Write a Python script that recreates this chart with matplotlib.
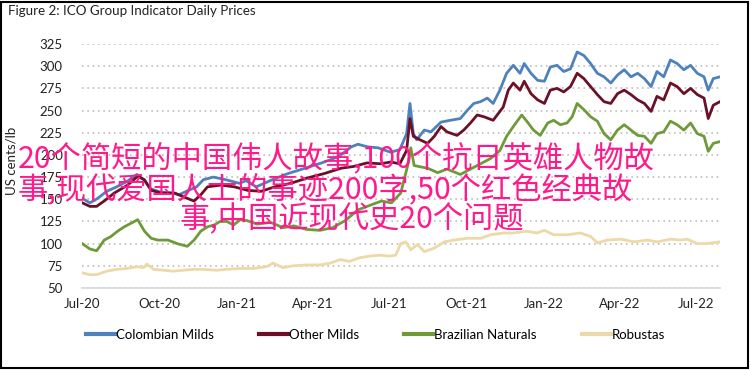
import matplotlib
matplotlib.use("Agg")
import matplotlib.pyplot as plt
from matplotlib.patches import Rectangle
import pandas as pd

# ---------------- data ----------------
colombian_dates = ["2020-07-01","2020-07-10","2020-07-16","2020-07-22","2020-07-30","2020-08-11","2020-08-23",
    "2020-09-04","2020-09-12","2020-09-20","2020-10-02","2020-10-17","2020-10-24","2020-11-02","2020-11-14",
    "2020-11-22","2020-12-04","2020-12-19","2021-01-04","2021-01-12","2021-01-24","2021-02-12","2021-03-03",
    "2021-03-23","2021-04-12","2021-05-02","2021-05-17","2021-05-25","2021-06-06","2021-06-18","2021-07-03",
    "2021-07-14","2021-07-22","2021-07-26","2021-07-30","2021-08-03","2021-08-12","2021-08-20","2021-09-01",
    "2021-09-12","2021-09-24","2021-10-02","2021-10-10","2021-10-18","2021-10-26","2021-11-02","2021-11-10",
    "2021-11-18","2021-11-26","2021-12-04","2021-12-09","2021-12-17","2021-12-25","2022-01-02","2022-01-09",
    "2022-01-17","2022-01-25","2022-02-02","2022-02-10","2022-02-18","2022-02-26","2022-03-06","2022-03-14",
    "2022-03-22","2022-03-30","2022-04-07","2022-04-15","2022-04-23","2022-05-01","2022-05-09","2022-05-16",
    "2022-05-24","2022-06-01","2022-06-09","2022-06-17","2022-06-25","2022-07-03","2022-07-11","2022-07-16",
    "2022-07-22","2022-07-30"]
colombian_vals = [151,146,149,153,159,164,170,178,172,162,158,157,155,159,164,
    172,175,172,168,171,164,172,179,
    185,191,198,209,212,209,208,203,
    206,224,258,224,217,228,226,237,
    239,241,250,258,260,264,258,273,
    292,301,292,303,292,284,283,299,
    301,294,297,316,312,303,292,288,
    281,290,296,288,292,286,277,294,
    288,307,303,296,301,292,288,273,
    286,288]

other_dates = ["2020-07-01","2020-07-10","2020-07-18","2020-07-27","2020-08-08","2020-08-24","2020-09-05",
    "2020-09-13","2020-09-21","2020-10-03","2020-10-19","2020-11-03","2020-11-11","2020-11-19","2020-11-27",
    "2020-12-13","2020-12-29","2021-01-14","2021-01-30","2021-02-15","2021-03-06","2021-03-26","2021-04-15",
    "2021-05-05","2021-05-20","2021-06-05","2021-06-21","2021-07-03","2021-07-14","2021-07-22","2021-07-26",
    "2021-07-30","2021-08-07","2021-08-16","2021-08-24","2021-09-01","2021-09-08","2021-09-20","2021-09-28",
    "2021-10-06","2021-10-14","2021-10-22","2021-11-02","2021-11-14","2021-11-20","2021-11-26","2021-12-04",
    "2021-12-09","2021-12-17","2021-12-25","2022-01-02","2022-01-09","2022-01-17","2022-01-25","2022-02-02",
    "2022-02-10","2022-02-18","2022-02-26","2022-03-06","2022-03-14","2022-03-22","2022-03-30","2022-04-07",
    "2022-04-15","2022-04-23","2022-05-01","2022-05-09","2022-05-16","2022-05-24","2022-06-01","2022-06-09",
    "2022-06-17","2022-06-25","2022-07-03","2022-07-11","2022-07-16","2022-07-22","2022-07-30"]
other_vals = [146,142,142,148,157,166,176,
    172,160,157,157,151,148,155,164,
    166,164,160,159,164,168,174,179,
    185,187,191,190,192,190,205,241,
    221,217,213,221,232,226,222,228,
    236,245,243,239,254,273,281,273,
    283,269,262,258,273,275,271,277,
    292,286,277,268,260,258,269,273,
    268,262,258,249,266,262,281,277,
    269,275,268,264,241,256,260]

brazil_dates = ["2020-07-01","2020-07-10","2020-07-18","2020-07-22","2020-07-27","2020-08-04","2020-08-12",
    "2020-08-20","2020-08-28","2020-09-05","2020-09-13","2020-09-21","2020-09-29","2020-10-11","2020-10-22",
    "2020-11-03","2020-11-11","2020-11-19","2020-11-27","2020-12-05","2020-12-12","2020-12-20","2020-12-28",
    "2021-01-05","2021-01-13","2021-01-25","2021-02-10","2021-02-25","2021-03-10","2021-03-25","2021-04-10",
    "2021-04-25","2021-05-10","2021-05-25","2021-06-05","2021-06-22","2021-07-04","2021-07-15","2021-07-23",
    "2021-07-27","2021-07-31","2021-08-16","2021-08-28","2021-09-08","2021-09-24","2021-10-10","2021-10-30",
    "2021-11-10","2021-11-18","2021-11-26","2021-12-06","2021-12-12","2021-12-20","2021-12-28","2022-01-06",
    "2022-01-13","2022-01-21","2022-01-29","2022-02-04","2022-02-10","2022-02-18","2022-02-26","2022-03-06",
    "2022-03-14","2022-03-22","2022-03-30","2022-04-07","2022-04-15","2022-04-23","2022-05-01","2022-05-09",
    "2022-05-16","2022-05-24","2022-06-01","2022-06-09","2022-06-17","2022-06-25","2022-07-03","2022-07-11",
    "2022-07-16","2022-07-22","2022-07-30"]
brazil_vals = [100,94,92,97,104,108,114,
    119,123,127,114,106,104,104,100,
    97,104,114,119,121,125,125,121,
    127,126,122,124,118,120,116,115,
    118,126,138,142,148,146,157,187,
    208,188,185,180,184,178,186,196,
    205,221,232,245,238,228,222,236,
    239,234,236,243,258,251,243,238,
    224,217,228,234,228,222,221,213,
    224,226,238,234,228,236,224,221,
    204,213,215]

robusta_dates = ["2020-07-01","2020-07-10","2020-07-18","2020-07-30","2020-08-11","2020-08-23","2020-09-04",
    "2020-09-12","2020-09-16","2020-09-24","2020-10-06","2020-10-17","2020-10-29","2020-11-10","2020-11-22",
    "2020-12-08","2020-12-19","2021-01-05","2021-01-20","2021-02-05","2021-02-13","2021-02-25","2021-03-09",
    "2021-03-25","2021-04-10","2021-04-22","2021-05-04","2021-05-15","2021-05-27","2021-06-08","2021-06-20",
    "2021-07-02","2021-07-09","2021-07-15","2021-07-21","2021-07-27","2021-08-04","2021-08-12","2021-08-24",
    "2021-09-05","2021-09-16","2021-10-02","2021-10-18","2021-10-30","2021-11-14","2021-11-26","2021-12-12",
    "2021-12-24","2022-01-02","2022-01-13","2022-01-29","2022-02-14","2022-02-26","2022-03-06","2022-03-18",
    "2022-04-03","2022-04-19","2022-05-05","2022-05-16","2022-06-01","2022-06-13","2022-06-21","2022-07-03",
    "2022-07-14","2022-07-22","2022-07-30"]
robusta_vals = [67,65,65,69,71,72,74,
    73,77,71,70,69,70,71,71,
    70,71,72,72,74,78,73,75,
    76,76,78,82,80,84,86,87,
    86,87,100,102,93,99,91,95,
    102,104,106,106,110,112,112,114,
    112,115,110,110,112,108,101,104,
    105,102,104,102,105,104,105,100,
    100,101,102]

series_names = ["Colombian Milds", "Other Milds", "Brazilian Naturals", "Robustas"]
series_colors = ["#4f81bd", "#6b1026", "#6f9a3a", "#ecd9a8"]
y_ticks = [50, 75, 100, 125, 150, 175, 200, 225, 250, 275, 300, 325]
x_tick_dates = ["2020-07-01","2020-10-01","2021-01-01","2021-04-01","2021-07-01",
                "2021-10-01","2022-01-01","2022-04-01","2022-07-01"]
x_tick_labels = ["Jul-20","Oct-20","Jan-21","Apr-21","Jul-21","Oct-21","Jan-22","Apr-22","Jul-22"]
overlay_lines = ["20个简短的中国伟人故事,100个抗日英雄人物故",
                 "事,现代爱国人士的事迹200字,50个红色经典故",
                 "事,中国近现代史20个问题"]

# ---------------- figure ----------------
W, H = 751, 370
fig = plt.figure(figsize=(W/100, H/100), dpi=100)
fig.patch.set_facecolor("white")
base_font = "Lato"

ax = fig.add_axes([82.3/W, 1-288/H, (720-82.3)/W, (288-44)/H])
ax.set_facecolor("white")

all_series = [(colombian_dates, colombian_vals), (other_dates, other_vals),
              (brazil_dates, brazil_vals), (robusta_dates, robusta_vals)]
handles = []
for (d, v), name, col in zip(all_series, series_names, series_colors):
    h, = ax.plot(pd.to_datetime(d), v, color=col, lw=2.0, label=name, solid_joinstyle="round")
    handles.append(h)

ax.set_ylim(50, 325)
ax.set_xlim(pd.Timestamp("2020-07-01"), pd.Timestamp("2022-07-30"))
ax.set_yticks(y_ticks)
ax.set_xticks(pd.to_datetime(x_tick_dates))
ax.set_xticklabels(x_tick_labels)
ax.grid(axis="y", color="#bfbfbf", linestyle=(0, (1, 2.2)), linewidth=1.2)
ax.set_axisbelow(True)
for s in ["top", "right", "left"]:
    ax.spines[s].set_visible(False)
ax.spines["bottom"].set_color("#d9d9d9")
ax.spines["bottom"].set_linewidth(1.2)
ax.tick_params(axis="both", length=0, labelsize=9.5, colors="#222222")
ax.tick_params(axis="y", pad=14)
ax.tick_params(axis="x", pad=7)
for lab in ax.get_xticklabels() + ax.get_yticklabels():
    lab.set_fontfamily(base_font)

fig.text(12/W, 1-161/H, "US cents/lb", rotation=90, ha="center", va="center",
         fontsize=9.5, family=base_font, color="#222222")
fig.text(8/W, 1-11/H, "Figure 2: ICO Group Indicator Daily Prices", ha="left", va="center",
         fontsize=9.6, family=base_font, color="#222222")

fig.legend(handles=handles, labels=series_names, loc="center", bbox_to_anchor=(0.5, 1-335/H),
           ncol=4, frameon=False, handlelength=2.2, handletextpad=0.1, columnspacing=3.4,
           prop={"family": base_font, "size": 9.5})
for lh in fig.legends[0].get_lines():
    lh.set_linewidth(3)

# overlay text
cjk = ["Noto Sans CJK SC", "DejaVu Sans"]
pink = "#ff1a8c"
fig.text(18/W, 1-158/H, overlay_lines[0], ha="left", va="center", fontsize=21.8,
         family=cjk, color=pink)
fig.text(18/W, 1-189/H, overlay_lines[1], ha="left", va="center", fontsize=21.8,
         family=cjk, color=pink)
fig.text(180/W, 1-219/H, overlay_lines[2], ha="left", va="center", fontsize=21.8,
         family=cjk, color=pink)

fig.patches.append(Rectangle((1/W, 2/H), 747/W, 366/H, transform=fig.transFigure,
                             fill=False, edgecolor="black", linewidth=1.5))

fig.savefig("out.png", dpi=100, facecolor="white")
